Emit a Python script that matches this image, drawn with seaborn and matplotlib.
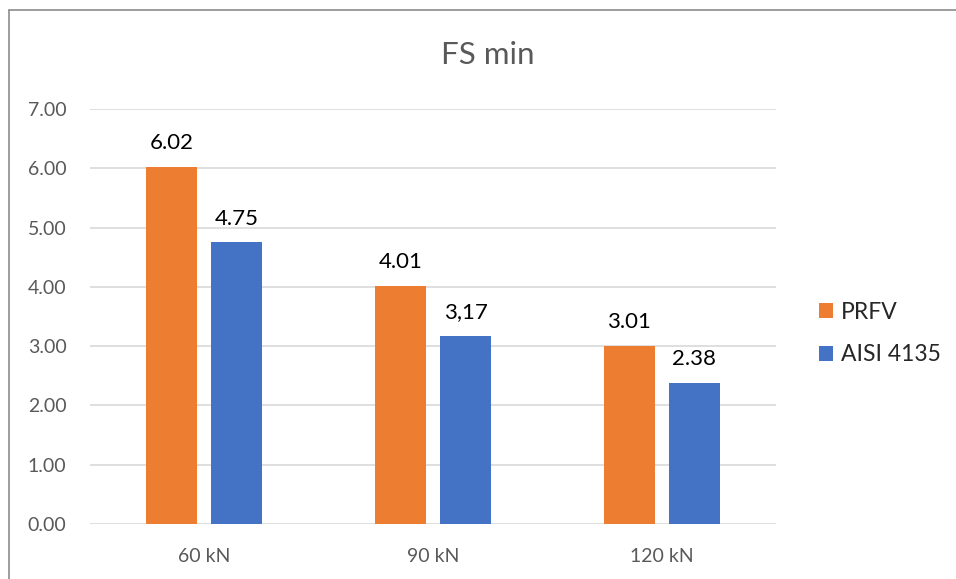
import matplotlib
matplotlib.use("Agg")
import matplotlib.pyplot as plt
import seaborn as sns
import pandas as pd
from matplotlib.lines import Line2D
from matplotlib.patches import Patch

# Minimum safety factor per load case
loads = ["60 kN", "90 kN", "120 kN"]
materials = ["PRFV", "AISI 4135"]
prfv = [6.02, 4.01, 3.01]
aisi = [4.75, 3.17, 2.38]
prfv_labels = ["6.02", "4.01", "3.01"]
aisi_labels = ["4.75", "3,17", "2.38"]
y_ticks = [0, 1, 2, 3, 4, 5, 6, 7]

colors = {"PRFV": "#ED7D31", "AISI 4135": "#4472C4"}

df = pd.DataFrame({
    "load": loads * 2,
    "material": [materials[0]] * 3 + [materials[1]] * 3,
    "fs": prfv + aisi,
})

sns.set_theme(style="white")
plt.rcParams["font.family"] = ["Lato", "DejaVu Sans"]

fig = plt.figure(figsize=(9.56, 5.79), dpi=100)
ax = fig.add_axes([90 / 956, 1 - 524 / 579, (776 - 90) / 956, (524 - 109) / 579])

sns.barplot(data=df, x="load", y="fs", hue="material", order=loads,
            hue_order=materials, palette=colors, width=0.568, gap=0.215,
            saturation=1, ax=ax, legend=False, linewidth=0)

ax.set_ylim(0, 7)
ax.set_xlim(-0.5, 2.5)
ax.set_yticks(y_ticks)
ax.set_yticklabels([f"{t:.2f}" for t in y_ticks])
ax.yaxis.grid(True, color="#D9D9D9", linewidth=1.2)
ax.set_axisbelow(True)
for s in ax.spines.values():
    s.set_visible(False)
ax.tick_params(axis="both", length=0, labelsize=14, colors="#595959")
ax.tick_params(axis="y", pad=17)
ax.tick_params(axis="x", pad=17)
ax.set_xlabel("")
ax.set_ylabel("")

# Value labels above each bar
for container, labels in zip(ax.containers, [prfv_labels, aisi_labels]):
    ax.bar_label(container, labels=labels, padding=10, fontsize=16, color="#000000")

fig.text(488 / 956, 1 - 55 / 579, "FS min", ha="center", va="center",
         fontsize=22.5, color="#595959")

handles = [Patch(facecolor=colors[m], edgecolor="none") for m in materials]
fig.legend(handles, materials, loc="center left",
           bbox_to_anchor=(819 / 956, 1 - 333.5 / 579), frameon=False,
           fontsize=16.5, handlelength=0.6, handleheight=0.6,
           handletextpad=0.35, labelspacing=0.95,
           borderpad=0, borderaxespad=0)

# Chart frame
fig.add_artist(Line2D([8.5 / 956, 8.5 / 956], [0, 1 - 10 / 579],
                      transform=fig.transFigure, color="#8C8C8C", linewidth=1.2))
fig.add_artist(Line2D([8.5 / 956, 1], [1 - 10 / 579, 1 - 10 / 579],
                      transform=fig.transFigure, color="#8C8C8C", linewidth=1.2))

fig.savefig("out.png", dpi=100, facecolor="white")
